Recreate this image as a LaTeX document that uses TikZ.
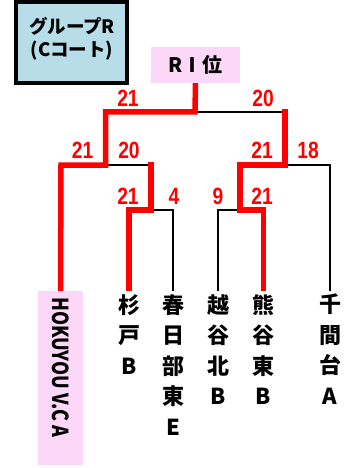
\documentclass[tikz,border=0pt]{standalone}
\usepackage{graphicx}
\usepackage{fontspec}
\newfontfamily\jp{Noto Sans CJK JP}
\newfontfamily\scorefont{Liberation Sans}
\definecolor{titlefill}{HTML}{B7DEE8}
\definecolor{pinkfill}{HTML}{FCD7F7}
\definecolor{winred}{HTML}{FF0000}
\newcommand{\scoretext}[1]{\scalebox{0.82}[1]{#1}}
\begin{document}
\begin{tikzpicture}[x=1pt,y=-1pt,
  thinline/.style={line width=1.5pt, black},
  winline/.style={line width=5.5pt, winred, line join=miter},
  score/.style={text=winred, font=\scorefont\bfseries\fontsize{23.5}{23.5}\selectfont, inner sep=0},
  team/.style={font=\jp\bfseries\fontsize{22}{30.5}\selectfont, align=center, anchor=north, inner xsep=0, inner ysep=3pt},
]
\useasboundingbox (0,0) rectangle (346,468);
% title
\node[draw=black, line width=4pt, fill=titlefill, minimum width=111pt, minimum height=81pt, inner sep=0] (title) at (71.5,42.5) {};
\node[align=center, inner sep=0, font=\jp\bfseries\fontsize{18.5}{23}\selectfont] (titletext) at (72,38.5) {グループR\\(Cコート)};
% champion
\node[fill=pinkfill, minimum width=89pt, minimum height=36pt, inner sep=0, font=\jp\bfseries\fontsize{20}{20}\selectfont] (champ) at (195.5,65) {RⅠ位};
% teams
\node[fill=pinkfill, minimum width=45pt, minimum height=174pt, inner sep=0] (t1) at (60.5,378) {};
\node[rotate=-90, anchor=west, inner sep=0, font=\jp\bfseries\fontsize{22}{22}\selectfont] (t1text) at (60.5,297) {\resizebox{140pt}{\height}{HOKUYOU V.C A}};
\node[team] (t2) at (129,291) {杉\\戸\\B};
\node[team] (t3) at (173,291) {春\\日\\部\\東\\E};
\node[team] (t4) at (218,291) {越\\谷\\北\\B};
\node[team] (t5) at (263.5,291) {熊\\谷\\東\\B};
\node[team] (t6) at (330,291) {千\\間\\台\\A};
% junctions
\coordinate (j0) at (195,112);
\coordinate (jl) at (105.5,112);
\coordinate (jr) at (285,112);
\coordinate (kl) at (105.5,165);
\coordinate (kl1) at (61,165);
\coordinate (kl2) at (151,165);
\coordinate (kr) at (285,165);
\coordinate (kr1) at (240,165);
\coordinate (kr2) at (330,165);
\coordinate (ml) at (151,210);
\coordinate (ml1) at (129,210);
\coordinate (ml2) at (173,210);
\coordinate (mr) at (240,210);
\coordinate (mr1) at (218,210);
\coordinate (mr2) at (263.5,210);
% losing branches
\draw[thinline] (jl) -- (jr);
\draw[thinline] (kl1) -- (kl2);
\draw[thinline] (kr1) -- (kr2) -- (t6.north);
\draw[thinline] (ml1) -- (ml2) -- (t3.north);
\draw[thinline] (mr2) -- (mr1) -- (t4.north);
% winning paths
\draw[winline] (champ.south) -- (j0) -- (jl) -- (kl) -- (kl1) -- (t1.north);
\draw[winline] ([yshift=2.75pt]kl2) -- (ml) -- (ml1) -- (t2.north);
\draw[winline] ([yshift=2.75pt]jr) -- (kr) -- (kr1) -- (mr) -- (mr2) -- (t5.north);
% scores
\node[score] (s1) at (128,98) {\scoretext{21}};
\node[score] (s2) at (263,98) {\scoretext{20}};
\node[score] (s3) at (82.7,150.5) {\scoretext{21}};
\node[score] (s4) at (129,150.5) {\scoretext{20}};
\node[score] (s5) at (262,150.5) {\scoretext{21}};
\node[score] (s6) at (308,150.5) {\scoretext{18}};
\node[score] (s7) at (128,196) {\scoretext{21}};
\node[score] (s8) at (174,196) {\scoretext{4}};
\node[score] (s9) at (218,196) {\scoretext{9}};
\node[score] (s10) at (262,196) {\scoretext{21}};
\end{tikzpicture}
\end{document}
